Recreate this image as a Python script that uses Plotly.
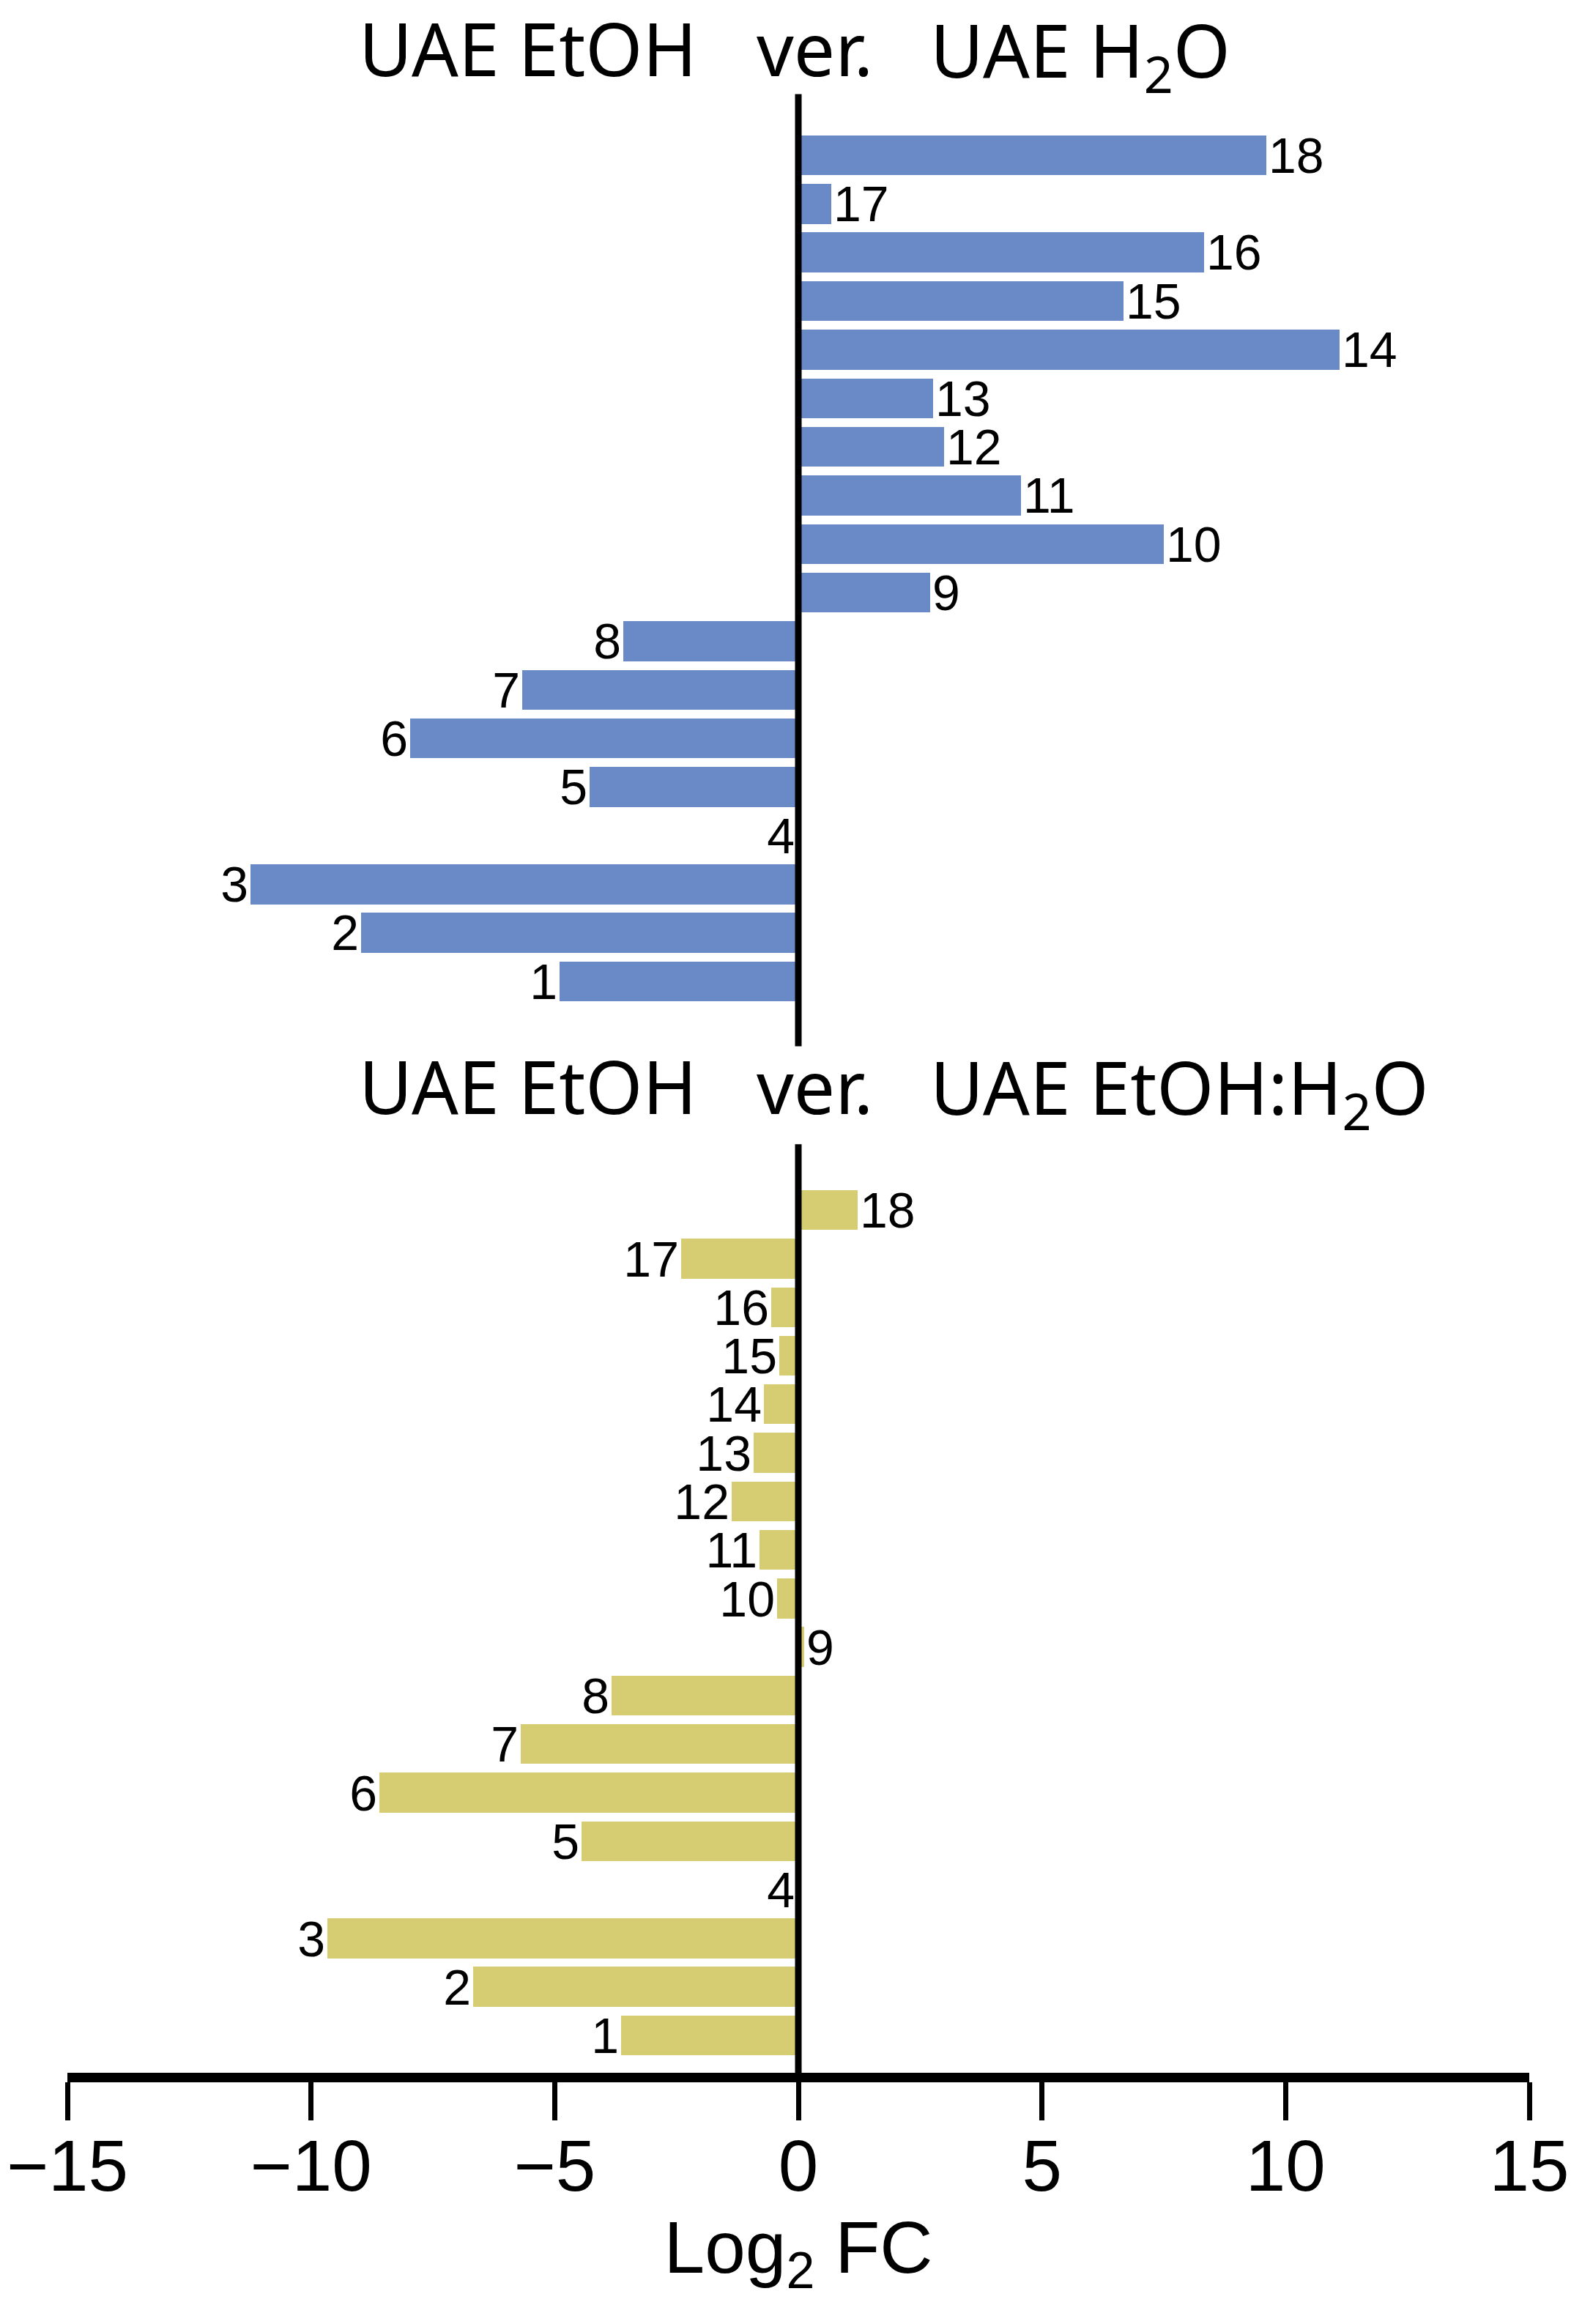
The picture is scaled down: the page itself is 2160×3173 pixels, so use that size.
import plotly.graph_objects as go

# compound numbers (bars from bottom to top)
compounds = list(range(1, 19))

# Log2 FC, UAE EtOH vs UAE H2O
fc_h2o = [-4.9, -8.97, -11.25, -0.02, -4.28, -7.96, -5.66, -3.59, 2.71,
          7.5, 4.57, 2.99, 2.77, 11.1, 6.68, 8.32, 0.67, 9.6]

# Log2 FC, UAE EtOH vs UAE EtOH:H2O
fc_mix = [-3.63, -6.68, -9.66, -0.02, -4.45, -8.6, -5.7, -3.84, 0.12,
          -0.44, -0.8, -1.37, -0.92, -0.71, -0.39, -0.56, -2.41, 1.22]

x_ticks = [-15, -10, -5, 0, 5, 10, 15]

BLUE = "#6a8ac7"
YELLOW = "#d6cc72"
LABEL_FONT = dict(family="Liberation Sans, Arial, sans-serif", size=68, color="black")
TITLE_FONT = dict(family="Noto Sans, sans-serif", size=100, color="black")

fig = go.Figure()
fig.add_trace(go.Bar(
    x=fc_h2o, y=compounds, orientation="h", yaxis="y2",
    marker=dict(color=BLUE, line=dict(width=0)), width=0.82,
    text=[str(c) for c in compounds], textposition="outside",
    textfont=LABEL_FONT, cliponaxis=False, constraintext="none",
))
fig.add_trace(go.Bar(
    x=fc_mix, y=compounds, orientation="h", yaxis="y",
    marker=dict(color=YELLOW, line=dict(width=0)), width=0.82,
    text=[str(c) for c in compounds], textposition="outside",
    textfont=LABEL_FONT, cliponaxis=False, constraintext="none",
))

# vertical zero lines in each panel
for yref in ["y domain", "y2 domain"]:
    fig.add_shape(type="line", xref="x", yref=yref, x0=0, x1=0, y0=0, y1=1,
                  line=dict(color="black", width=9), layer="above")

# panel titles
for ypos, right_text in [(0.982, "UAE H<sub>2</sub>O"), (0.5355, "UAE EtOH:H<sub>2</sub>O")]:
    fig.add_annotation(text="UAE EtOH", xref="paper", yref="paper", x=0.432, y=ypos,
                       xanchor="right", yanchor="middle", showarrow=False, font=TITLE_FONT)
    fig.add_annotation(text="ver.", xref="paper", yref="paper", x=0.5115, y=ypos,
                       xanchor="center", yanchor="middle", showarrow=False, font=TITLE_FONT)
    fig.add_annotation(text=right_text, xref="paper", yref="paper", x=0.589, y=ypos,
                       xanchor="left", yanchor="middle", showarrow=False, font=TITLE_FONT,
                       yshift=-8)

fig.update_layout(
    width=2160, height=3173,
    margin=dict(l=84, r=80, t=0, b=0),
    paper_bgcolor="white", plot_bgcolor="white",
    showlegend=False, bargap=0,
    xaxis=dict(
        range=[-15, 15], tickvals=x_ticks, showgrid=False, zeroline=False,
        showline=True, linecolor="black", linewidth=13,
        ticks="outside", ticklen=52, tickwidth=7, tickcolor="black",
        tickfont=dict(family="Liberation Sans, Arial, sans-serif", size=98, color="black"),
        ticklabelstandoff=-22,
        anchor="y", automargin=False,
        title=dict(text="Log<sub>2</sub> FC", standoff=10,
                   font=dict(family="Liberation Sans, Arial, sans-serif", size=100, color="black")),
    ),
    yaxis=dict(domain=[0.1106, 0.5102], range=[0.23, 19.36], visible=False),
    yaxis2=dict(domain=[0.5523, 0.962], range=[-0.34, 19.25], visible=False, anchor="x"),
)

fig.write_html("out.html")
